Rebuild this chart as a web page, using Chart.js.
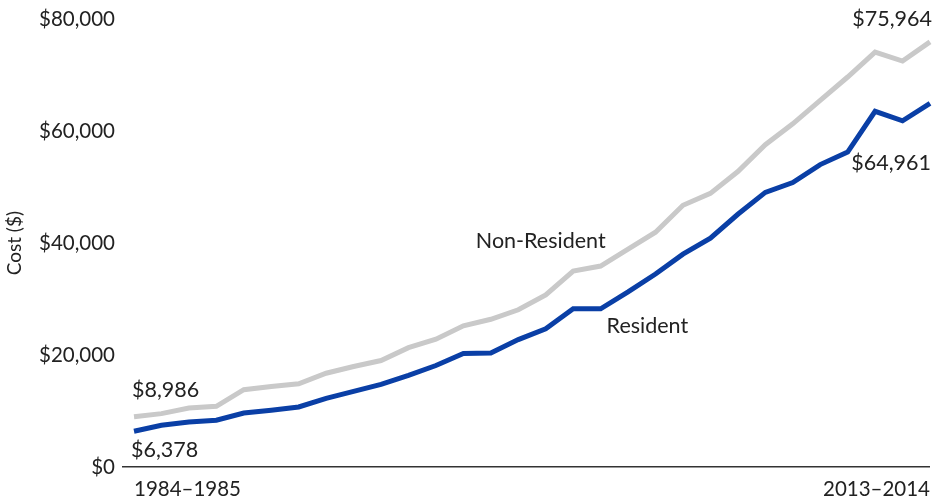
<!DOCTYPE html>
<html lang="en">

<head>
    <meta charset="UTF-8">
    <title>Cost: Resident vs Non-Resident</title>
    <style>
        body {
            margin: 0;
            padding: 0;
            background-color: #fff;
        }

        #wrap {
            position: relative;
            width: 932px;
            height: 501px;
        }
    </style>
    <script src="https://cdn.jsdelivr.net/npm/chart.js"></script>
</head>

<body>
    <div id="wrap">
        <canvas id="costChart"></canvas>
    </div>

    <script>
        // academic years, 1984–1985 through 2013–2014
        const years = [];
        for (let y = 1984; y <= 2013; y++) {
            years.push(y + '\u2013' + (y + 1));
        }

        const nonResident = [8986, 9540, 10540, 10840, 13810, 14400, 14880, 16760, 17960, 19020,
            21330, 22840, 25240, 26400, 28090, 30760, 35020, 35910, 38930, 41960,
            46760, 48890, 52800, 57600, 61330, 65510, 69690, 74130, 72530, 75964];

        const resident = [6378, 7467, 8053, 8356, 9650, 10133, 10720, 12270, 13510, 14760,
            16360, 18130, 20270, 20360, 22760, 24710, 28270, 28270, 31290, 34490,
            38040, 40890, 45160, 49070, 50840, 54040, 56270, 63560, 61870, 64961];

        const yTicks = [0, 20000, 40000, 60000, 80000];

        const textColor = '#222';
        const fontFamily = 'Lato, "Noto Sans", sans-serif';

        function money(v) {
            return '$' + v.toLocaleString('en-US');
        }

        // value and series labels written next to the lines
        const lineLabels = {
            id: 'lineLabels',
            afterDatasetsDraw(chart) {
                const ctx = chart.ctx;
                const x = chart.scales.x;
                const y = chart.scales.y;
                const last = years.length - 1;

                const items = [
                    { text: money(nonResident[0]), align: 'left', px: x.getPixelForValue(0) - 2, py: y.getPixelForValue(nonResident[0]) - 27 },
                    { text: money(resident[0]), align: 'left', px: x.getPixelForValue(0) - 3, py: y.getPixelForValue(resident[0]) + 19 },
                    { text: money(nonResident[last]), align: 'right', px: x.getPixelForValue(last) + 2, py: y.getPixelForValue(nonResident[last]) - 23 },
                    { text: money(resident[last]), align: 'right', px: x.getPixelForValue(last) + 1, py: y.getPixelForValue(resident[last]) + 60 },
                    { text: 'Non-Resident', align: 'left', px: x.getPixelForValue(13) - 15, py: y.getPixelForValue(nonResident[13]) - 78 },
                    { text: 'Resident', align: 'left', px: x.getPixelForValue(17) + 6, py: y.getPixelForValue(resident[17]) + 17 }
                ];

                ctx.save();
                ctx.fillStyle = textColor;
                ctx.font = '21.5px ' + fontFamily;
                ctx.textBaseline = 'middle';
                items.forEach(function (it) {
                    ctx.textAlign = it.align;
                    ctx.fillText(it.text, it.px, it.py);
                });
                ctx.restore();
            }
        };

        const ctx = document.getElementById('costChart').getContext('2d');
        new Chart(ctx, {
            type: 'line',
            data: {
                labels: years,
                datasets: [{
                    label: 'Non-Resident',
                    data: nonResident,
                    borderColor: '#c9c9c9',
                    borderWidth: 5,
                    pointRadius: 0,
                    tension: 0,
                    fill: false
                }, {
                    label: 'Resident',
                    data: resident,
                    borderColor: '#0a3fa6',
                    borderWidth: 5,
                    pointRadius: 0,
                    tension: 0,
                    fill: false
                }]
            },
            options: {
                responsive: true,
                maintainAspectRatio: false,
                animation: false,
                events: [],
                layout: {
                    padding: { top: 17, right: 2, bottom: 0, left: 0 }
                },
                plugins: {
                    legend: { display: false },
                    tooltip: { enabled: false }
                },
                scales: {
                    x: {
                        offset: false,
                        border: { display: false },
                        grid: { display: false, drawTicks: false },
                        ticks: {
                            autoSkip: false,
                            maxRotation: 0,
                            align: 'inner',
                            padding: 10,
                            color: textColor,
                            font: { family: fontFamily, size: 20.5 },
                            callback: function (value, index) {
                                return (index === 0 || index === years.length - 1) ? years[index] : '';
                            }
                        },
                        afterFit: function (scale) {
                            scale.height = 34;
                            scale.paddingLeft = 0;
                            scale.paddingRight = 0;
                        }
                    },
                    y: {
                        min: yTicks[0],
                        max: yTicks[yTicks.length - 1],
                        border: { display: false },
                        grid: {
                            drawTicks: true,
                            tickLength: 12,
                            lineWidth: 1.5,
                            color: function (c) {
                                return c.tick && c.tick.value === 0 ? '#333' : 'rgba(0,0,0,0)';
                            }
                        },
                        afterBuildTicks: function (scale) {
                            scale.ticks = yTicks.map(function (v) { return { value: v }; });
                        },
                        ticks: {
                            padding: 7,
                            color: textColor,
                            font: { family: fontFamily, size: 20.5 },
                            callback: function (value) {
                                return money(value);
                            }
                        },
                        title: {
                            display: true,
                            text: 'Cost ($)',
                            color: textColor,
                            font: { family: fontFamily, size: 19 },
                            padding: { top: 3, bottom: 0 }
                        },
                        afterFit: function (scale) {
                            scale.width = 134;
                        }
                    }
                }
            },
            plugins: [lineLabels]
        });
    </script>
</body>

</html>
